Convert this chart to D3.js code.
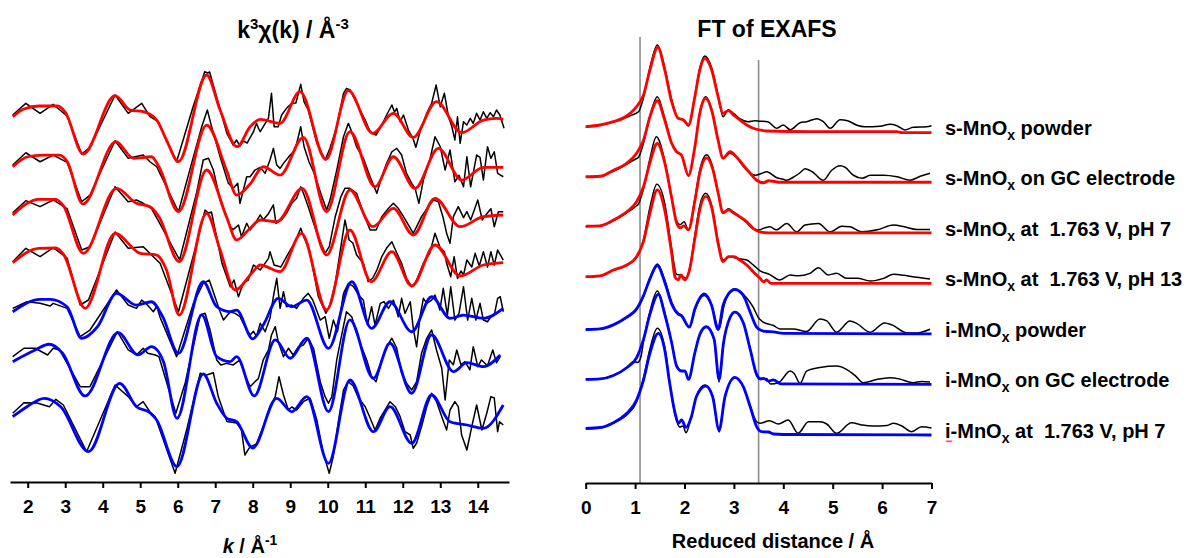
<!DOCTYPE html>
<html>
<head>
<meta charset="utf-8">
<script src="https://cdn.jsdelivr.net/npm/d3@7"></script>
<style>
  body { margin: 0; background: #fff; }
  svg text { font-family: "Liberation Sans", Arial, sans-serif; font-weight: bold; fill: #000; white-space: pre; }
</style>
</head>
<body>
<svg id="fig" width="1192" height="558"></svg>
<script>
// ---- sample names (top to bottom) ----
const sampleNames = [
  "s-MnOx powder",
  "s-MnOx on GC electrode",
  "s-MnOx at  1.763 V, pH 7",
  "s-MnOx at  1.763 V, pH 13",
  "i-MnOx powder",
  "i-MnOx on GC electrode",
  "i-MnOx at  1.763 V, pH 7"
];
const sampleType = ["s", "s", "s", "s", "i", "i", "i"];

const kTicks = [2, 3, 4, 5, 6, 7, 8, 9, 10, 11, 12, 13, 14];
const rTicks = [0, 1, 2, 3, 4, 5, 6, 7];
const fitWindowR = [1.1, 3.5];

// ---- k^3 chi(k), measured: [k, value] ----
const expS1 = [[1.6,0.3],[1.95,1.47],[2.33,0.47],[2.68,1.37],[3.05,0.2],[3.44,-3.6],[3.66,-2.93],[4.33,2.3],[4.68,0.47],[5.04,1.47],[5.26,0.13],[5.48,-0.37],[5.97,-4.37],[6.4,1.0],[6.72,4.63],[6.8,4.5],[6.85,4.6],[7.31,-1.53],[7.48,-2.7],[7.57,-2.2],[7.66,-2.8],[7.75,-2.3],[7.85,-2.5],[8.02,-1.37],[8.1,-0.53],[8.15,-1.0],[8.2,-1.37],[8.42,0.0],[8.5,2.47],[8.57,-0.87],[8.68,-0.87],[8.77,0.3],[8.9,0.97],[9.04,1.47],[9.15,1.5],[9.28,3.37],[9.37,1.6],[9.48,0.8],[9.71,-2.53],[9.93,-4.2],[10.06,-3.03],[10.24,-0.87],[10.42,2.47],[10.5,2.97],[10.6,2.8],[10.73,1.8],[10.86,0.8],[11.0,-0.2],[11.13,-1.37],[11.29,-1.7],[11.44,-0.7],[11.57,0.3],[11.71,1.3],[11.78,0.6],[11.84,0.97],[11.93,-0.37],[12.02,0.3],[12.15,-1.2],[12.27,-2.03],[12.35,-2.93],[12.46,-1.37],[12.64,0.47],[12.77,1.47],[12.89,3.3],[13.0,1.13],[13.11,2.47],[13.22,0.13],[13.31,-0.87],[13.39,-2.2],[13.46,0.13],[13.53,-2.53],[13.62,-0.37],[13.71,-0.7],[13.8,-0.03],[13.88,-0.53],[13.97,0.47],[14.06,-0.2],[14.15,0.63],[14.24,-0.03],[14.33,0.53],[14.42,0.13],[14.5,0.8],[14.59,0.3],[14.7,-1.03]];
const expS2 = [[1.6,0.13],[1.95,1.36],[2.33,0.46],[2.68,1.13],[3.05,0.4],[3.44,-3.54],[3.66,-2.87],[4.33,2.56],[4.68,0.8],[5.08,1.13],[5.26,0.46],[5.44,-0.04],[6.02,-4.54],[6.37,0.3],[6.64,3.96],[6.79,5.63],[6.88,4.3],[7.13,0.96],[7.35,-1.7],[7.48,-2.2],[7.6,-1.7],[7.66,-3.7],[7.84,-1.04],[7.93,-1.04],[8.06,-0.37],[8.2,-0.1],[8.33,-0.7],[8.46,0.63],[8.55,1.8],[8.64,0.13],[8.73,-0.2],[8.82,0.3],[9.0,1.13],[9.13,1.63],[9.28,3.96],[9.37,1.96],[9.5,0.46],[9.64,-0.7],[9.8,-2.54],[9.97,-4.37],[10.06,-3.37],[10.24,-0.37],[10.42,2.96],[10.55,4.3],[10.64,3.46],[10.77,1.96],[10.95,0.8],[11.13,-1.04],[11.31,-2.7],[11.44,-1.04],[11.57,0.3],[11.71,1.46],[11.84,1.8],[11.97,1.13],[12.1,-0.7],[12.24,-1.7],[12.33,-2.2],[12.43,-3.7],[12.55,-1.37],[12.72,0.63],[12.86,2.96],[13.0,1.96],[13.13,-0.37],[13.26,1.63],[13.39,-1.54],[13.5,-0.9],[13.62,-2.04],[13.71,0.96],[13.81,-2.04],[13.97,1.13],[14.06,0.9],[14.15,-1.37],[14.26,1.96],[14.35,0.8],[14.44,1.46],[14.53,-0.7],[14.68,-1.04]];
const expS3 = [[1.6,0.2],[1.95,1.4],[2.33,0.8],[2.68,1.47],[3.05,0.6],[3.44,-3.53],[3.66,-3.2],[4.33,2.8],[4.68,1.3],[4.9,1.47],[5.08,1.14],[5.3,0.6],[5.47,-0.53],[6.05,-4.53],[6.5,2.14],[6.68,5.47],[6.82,5.64],[6.95,4.47],[7.13,1.47],[7.4,-1.2],[7.48,-1.5],[7.62,-1.03],[7.7,-2.2],[7.84,-0.86],[7.93,-1.53],[8.06,-0.9],[8.2,-0.03],[8.28,-0.5],[8.42,0.1],[8.55,0.97],[8.62,-0.86],[8.77,-0.5],[8.9,0.14],[9.04,1.14],[9.17,1.64],[9.28,2.8],[9.37,1.97],[9.48,0.8],[9.71,-1.86],[9.93,-3.86],[10.04,-3.2],[10.2,-0.2],[10.35,1.8],[10.46,2.64],[10.59,2.64],[10.77,2.14],[10.95,0.14],[11.13,-1.53],[11.29,-1.53],[11.44,-0.2],[11.62,0.64],[11.75,1.14],[11.88,0.64],[12.02,-0.2],[12.15,-1.03],[12.28,-1.86],[12.37,-1.2],[12.5,-0.2],[12.68,0.8],[12.82,1.47],[12.95,1.3],[13.07,-0.2],[13.17,-1.86],[13.26,-2.86],[13.35,-0.2],[13.48,0.8],[13.62,-0.3],[13.71,0.3],[13.81,-0.53],[13.9,0.4],[14.0,1.47],[14.12,-0.53],[14.24,0.1],[14.35,0.6],[14.44,-1.2],[14.55,0.3],[14.68,0.3]];
const expS4 = [[1.6,0.13],[1.95,1.47],[2.33,0.63],[2.68,1.53],[3.05,0.5],[3.4,-4.2],[3.62,-3.7],[4.33,3.1],[4.68,1.47],[5.08,1.63],[5.35,0.63],[5.53,-0.03],[6.02,-4.87],[6.4,0.5],[6.73,5.3],[6.82,5.0],[6.9,5.1],[7.18,-0.03],[7.4,-2.37],[7.5,-1.7],[7.62,-3.37],[7.75,-2.0],[7.88,-1.7],[8.02,-0.2],[8.1,-0.4],[8.2,-0.7],[8.42,0.47],[8.46,1.13],[8.57,-0.2],[8.75,-0.4],[9.0,1.3],[9.13,2.13],[9.28,3.47],[9.37,2.5],[9.5,1.47],[9.75,-3.37],[9.95,-5.03],[10.06,-4.2],[10.2,-2.03],[10.46,4.3],[10.57,2.3],[10.67,2.0],[10.77,0.8],[10.95,-0.03],[11.08,-1.87],[11.2,-1.5],[11.31,-0.7],[11.44,0.63],[11.57,1.5],[11.71,2.13],[11.84,1.0],[11.97,-0.03],[12.1,-1.53],[12.24,-2.37],[12.35,-1.9],[12.55,-0.03],[12.72,0.97],[12.86,2.97],[12.99,1.6],[13.11,1.13],[13.17,-0.03],[13.28,-1.37],[13.37,0.63],[13.46,-1.54],[13.55,-0.8],[13.62,-1.2],[13.71,0.3],[13.84,-0.4],[13.93,0.97],[14.04,-0.3],[14.15,1.13],[14.26,-0.4],[14.35,1.13],[14.44,-0.2],[14.53,1.3],[14.68,0.3]];
const expI1 = [[1.6,0.3],[1.98,0.96],[2.33,0.8],[2.6,0.53],[2.68,0.8],[3.05,0.3],[3.4,-2.54],[3.66,-1.87],[4.37,2.13],[4.68,0.63],[4.9,0.3],[5.04,1.13],[5.15,0.8],[5.35,-0.04],[5.44,0.5],[5.53,-0.6],[5.97,-4.54],[6.42,0.8],[6.68,2.8],[6.84,3.13],[7.13,-0.04],[7.22,-0.87],[7.4,-0.04],[7.53,-0.2],[7.66,-0.54],[7.84,-1.87],[7.93,-2.37],[8.02,-2.0],[8.1,-2.5],[8.2,-1.2],[8.33,-2.04],[8.46,-0.7],[8.55,1.46],[8.64,3.3],[8.73,0.3],[8.82,1.96],[8.9,0.46],[9.04,0.63],[9.17,0.3],[9.35,1.3],[9.48,1.8],[9.6,1.13],[9.8,-0.87],[9.93,-0.54],[10.04,-2.7],[10.15,-0.87],[10.26,-2.04],[10.42,1.8],[10.55,2.8],[10.68,2.5],[10.86,1.46],[10.95,1.13],[11.06,-1.37],[11.17,0.46],[11.26,-1.37],[11.4,0.8],[11.5,0.96],[11.62,0.3],[11.75,1.13],[11.88,-0.54],[11.97,1.3],[12.06,-0.2],[12.2,0.96],[12.28,-1.7],[12.37,-3.54],[12.46,-0.54],[12.55,1.3],[12.64,0.8],[12.77,1.13],[12.86,1.63],[12.99,0.13],[13.08,2.3],[13.19,-0.37],[13.28,2.46],[13.39,-0.87],[13.5,-0.2],[13.62,2.46],[13.73,-0.87],[13.84,1.3],[13.95,-0.87],[14.06,0.8],[14.15,-0.87],[14.26,-1.04],[14.35,-0.54],[14.44,-0.37],[14.53,1.3],[14.6,1.46],[14.68,-0.04]];
const expI2 = [[1.6,0.3],[1.9,1.14],[2.2,1.14],[2.53,0.47],[2.68,1.14],[2.85,0.97],[3.4,-2.7],[3.66,-2.7],[4.39,2.8],[4.68,0.97],[4.9,0.47],[5.08,1.14],[5.2,0.64],[5.4,0.47],[5.5,0.3],[5.95,-5.36],[6.2,-2.3],[6.6,4.47],[6.73,4.64],[6.86,3.0],[7.04,-0.03],[7.15,-0.53],[7.3,-0.37],[7.48,-0.53],[7.66,-0.03],[7.79,-1.53],[7.93,-2.7],[8.06,-2.2],[8.15,-1.9],[8.28,-0.03],[8.42,0.97],[8.5,2.47],[8.6,3.3],[8.68,1.8],[8.82,0.3],[8.95,1.14],[9.08,0.47],[9.22,1.3],[9.35,1.47],[9.48,2.14],[9.62,1.14],[9.8,-2.2],[9.93,-3.7],[10.02,-4.36],[10.11,-3.7],[10.24,-0.03],[10.38,2.64],[10.5,4.8],[10.64,4.3],[10.77,2.64],[10.9,1.3],[11.04,-0.03],[11.17,-1.7],[11.29,-2.2],[11.44,-0.03],[11.57,1.3],[11.71,2.14],[11.84,1.14],[11.97,-1.36],[12.1,-2.36],[12.24,-3.03],[12.37,-2.2],[12.5,0.64],[12.64,2.14],[12.77,2.97],[12.9,0.97],[13.04,-0.86],[13.13,-4.03],[13.24,-0.03],[13.35,-0.5],[13.44,0.97],[13.55,-0.5],[13.66,-0.2],[13.79,-1.03],[13.88,1.3],[14.0,-0.7],[14.1,-0.03],[14.26,-0.6],[14.4,0.97],[14.5,-0.3],[14.6,0.3]];
const expI3 = [[1.6,-0.53],[1.9,0.53],[2.25,0.5],[2.58,0.13],[2.75,0.87],[2.95,0.3],[3.57,-4.37],[4.33,2.3],[4.68,1.14],[4.9,0.13],[5.08,0.63],[5.26,-0.4],[5.4,-0.87],[5.93,-6.53],[6.25,-2.0],[6.6,3.47],[6.77,3.3],[6.95,3.53],[7.08,1.14],[7.31,-1.36],[7.57,-1.5],[7.7,-2.2],[7.79,-4.7],[7.93,-3.87],[8.1,-3.6],[8.28,-1.87],[8.46,0.13],[8.6,1.14],[8.7,3.13],[8.82,1.3],[8.95,-0.2],[9.04,0.1],[9.17,-0.2],[9.35,0.63],[9.53,1.0],[9.71,-1.2],[9.88,-4.53],[10.04,-6.53],[10.15,-4.8],[10.29,-1.2],[10.42,1.8],[10.55,2.64],[10.68,2.2],[10.82,1.0],[11.0,0.13],[11.13,-1.0],[11.26,-2.2],[11.4,-1.0],[11.53,-0.2],[11.66,0.63],[11.8,0.13],[11.93,-0.87],[12.06,-2.37],[12.2,-2.7],[12.28,-4.03],[12.37,-3.5],[12.5,-1.87],[12.64,0.13],[12.77,1.47],[12.9,0.64],[13.04,-0.87],[13.17,-2.2],[13.26,-0.2],[13.39,0.64],[13.48,0.13],[13.57,-2.7],[13.71,-4.2],[13.84,-1.87],[13.97,0.3],[14.11,-2.2],[14.24,-0.53],[14.35,1.14],[14.44,1.0],[14.53,-2.37],[14.58,-1.37],[14.68,-1.7]];

// ---- k^3 chi(k), fitted model: [k, value] ----
const fitS1 = [[1.6,0.13],[1.9,0.9],[2.3,1.2],[2.8,1.2],[3.0,0.6],[3.48,-3.6],[4.33,2.23],[4.73,0.8],[5.08,0.63],[5.44,-0.2],[5.7,-2.2],[6.02,-4.37],[6.77,4.3],[7.13,0.8],[7.58,-2.87],[7.93,-0.87],[8.2,-0.13],[8.73,-0.53],[9.26,2.63],[9.95,-4.13],[10.55,2.73],[11.2,-1.53],[11.75,0.47],[12.28,-1.93],[12.9,1.63],[13.57,-1.47],[14.15,-0.2],[14.5,-0.03],[14.68,-0.13]];
const fitS2 = [[1.6,-0.04],[2.0,0.96],[2.4,1.13],[2.85,1.13],[3.05,0.5],[3.47,-3.77],[4.35,2.46],[4.82,0.8],[5.3,0.96],[5.5,-0.04],[6.02,-4.54],[6.77,4.13],[7.3,-0.37],[7.57,-2.87],[7.93,-1.77],[8.28,-0.04],[8.73,-0.87],[9.35,2.9],[9.97,-4.54],[10.59,3.46],[11.26,-2.04],[11.75,0.96],[12.33,-2.2],[12.95,1.8],[13.57,-1.37],[14.15,-0.1],[14.68,-0.1]];
const fitS3 = [[1.6,-0.03],[2.3,1.54],[2.75,1.54],[2.95,0.9],[3.48,-3.86],[4.37,2.64],[4.9,1.14],[5.26,0.8],[5.5,-0.2],[6.04,-4.7],[6.77,4.47],[7.3,-0.2],[7.57,-2.53],[7.93,-1.36],[8.2,-0.53],[8.64,-0.7],[9.32,2.64],[9.97,-4.03],[10.59,2.47],[11.2,-1.2],[11.75,0.64],[12.28,-2.03],[12.86,1.64],[13.53,-1.2],[14.15,-0.2],[14.68,-0.03]];
const fitS4 = [[1.6,0.03],[2.3,1.47],[2.75,1.5],[2.95,0.9],[3.53,-4.53],[4.33,2.97],[5.0,0.97],[5.44,0.8],[5.7,-0.7],[6.04,-5.2],[6.77,4.97],[7.13,1.3],[7.53,-2.7],[8.0,-0.9],[8.2,-0.2],[8.73,-0.87],[9.3,2.97],[9.97,-4.7],[10.59,3.3],[11.16,-1.87],[11.71,1.13],[12.24,-2.3],[12.86,1.8],[13.53,-1.3],[14.15,-0.2],[14.68,0.03]];
const fitI1 = [[1.6,-0.04],[2.33,1.2],[2.6,1.2],[3.05,0.46],[3.44,-2.7],[3.86,-1.54],[4.37,1.8],[4.9,0.63],[5.3,0.96],[5.6,-0.54],[6.02,-4.2],[6.68,2.96],[7.04,0.46],[7.4,-0.04],[7.57,0.13],[8.0,-2.75],[8.28,-1.37],[8.68,1.3],[9.04,0.46],[9.44,1.13],[10.02,-3.7],[10.64,2.96],[11.17,-1.7],[11.66,0.96],[12.24,-2.04],[12.77,1.46],[13.26,-0.7],[13.62,-0.37],[14.15,-0.7],[14.68,0.3]];
const fitI2 = [[1.6,-0.2],[2.2,0.97],[2.57,1.54],[2.93,0.64],[3.53,-3.63],[4.41,2.7],[4.94,0.47],[5.3,1.3],[5.62,-0.2],[5.98,-5.86],[6.64,4.47],[7.04,0.3],[7.4,-0.2],[7.57,0.3],[8.04,-3.63],[8.6,1.97],[9.0,0.14],[9.44,2.14],[10.02,-5.2],[10.59,3.97],[11.22,-1.86],[11.66,1.64],[12.24,-3.36],[12.77,2.47],[13.35,-1.2],[13.71,-0.3],[14.15,-0.7],[14.6,0.47]];
const fitI3 = [[1.6,-0.87],[1.98,0.13],[2.44,0.97],[2.88,0.13],[3.62,-4.37],[4.45,2.47],[4.9,0.13],[5.26,-0.47],[5.44,-1.2],[5.98,-5.87],[6.68,3.4],[7.04,0.47],[7.31,-1.03],[7.57,-1.37],[8.0,-4.0],[8.64,0.97],[9.04,-0.37],[9.44,1.14],[10.02,-5.53],[10.59,2.8],[11.22,-2.37],[11.66,0.13],[12.24,-3.53],[12.77,1.3],[13.26,-1.37],[13.71,-1.7],[14.15,-2.03],[14.68,0.3]];

// ---- |FT| vs reduced distance, measured: [R, value] ----
const ftExpS1 = [[0,0.45],[0.29,0.67],[0.69,1.17],[0.9,1.6],[1.07,2.0],[1.17,3.4],[1.3,6.4],[1.45,8.67],[1.6,6.4],[1.74,3.2],[1.87,1.34],[1.98,1.2],[2.08,0.57],[2.21,3.6],[2.31,6.4],[2.41,7.57],[2.55,6.4],[2.68,3.6],[2.78,1.5],[2.89,2.2],[3.0,1.8],[3.12,1.3],[3.29,1.0],[3.42,1.1],[3.53,1.05],[3.68,1.0],[3.87,0.34],[4.0,0.67],[4.14,0.2],[4.34,0.9],[4.47,1.0],[4.68,1.3],[4.81,1.0],[4.95,0.34],[5.15,1.2],[5.3,1.1],[5.49,0.65],[5.65,0.5],[5.96,0.55],[6.16,0.74],[6.3,0.6],[6.46,0.17],[6.63,0.44],[6.9,0.5],[7.0,0.6]];
const ftExpS2 = [[0,0.5],[0.29,0.6],[0.56,1.1],[0.83,1.8],[1.0,2.3],[1.07,2.5],[1.17,3.9],[1.3,6.6],[1.45,8.55],[1.6,6.4],[1.74,3.9],[1.84,3.05],[1.94,2.7],[2.08,0.6],[2.21,3.6],[2.31,7.0],[2.43,8.55],[2.55,7.3],[2.68,4.2],[2.78,2.4],[2.92,2.9],[3.05,2.5],[3.19,1.6],[3.33,0.9],[3.43,0.7],[3.57,0.9],[3.66,1.05],[3.87,0.45],[4.0,0.3],[4.07,0.2],[4.2,0.5],[4.34,0.95],[4.44,1.35],[4.6,1.0],[4.81,0.2],[4.98,1.2],[5.15,1.65],[5.25,1.5],[5.42,0.7],[5.6,0.4],[5.76,0.7],[6.03,0.7],[6.3,0.55],[6.57,0.2],[6.77,0.6],[6.97,0.9]];
const ftExpS3 = [[0,0.6],[0.29,0.7],[0.56,1.2],[0.83,2.0],[1.0,2.6],[1.07,2.9],[1.17,4.4],[1.3,7.4],[1.43,9.6],[1.6,7.2],[1.74,3.4],[1.84,1.2],[1.91,0.8],[1.99,1.1],[2.08,0.3],[2.21,3.4],[2.31,6.3],[2.45,7.8],[2.57,6.6],[2.68,4.0],[2.78,2.0],[2.89,2.4],[2.99,2.1],[3.12,1.6],[3.26,1.0],[3.39,0.4],[3.49,0.27],[3.63,0.5],[3.73,0.6],[3.86,0.3],[4.07,0.93],[4.27,0.1],[4.44,0.77],[4.71,0.93],[4.95,0.1],[5.18,0.65],[5.35,0.6],[5.59,0.1],[5.9,0.3],[6.23,0.77],[6.45,0.6],[6.7,0.33],[6.97,0.33]];
const ftExpS4 = [[0,0.6],[0.29,0.75],[0.56,1.3],[0.83,1.8],[1.0,2.4],[1.07,2.9],[1.17,4.4],[1.3,7.6],[1.44,9.9],[1.6,8.0],[1.74,3.5],[1.84,0.9],[1.94,0.8],[2.03,0.5],[2.1,1.4],[2.21,4.8],[2.31,7.8],[2.43,9.0],[2.55,7.8],[2.68,4.2],[2.78,2.34],[2.92,2.67],[3.05,2.5],[3.26,2.34],[3.39,1.84],[3.53,1.25],[3.72,0.9],[3.93,0.34],[4.14,0.84],[4.3,0.75],[4.54,1.0],[4.71,1.57],[4.91,0.84],[5.08,1.0],[5.28,0.5],[5.5,0.5],[5.76,0.24],[6.03,0.5],[6.23,0.9],[6.45,0.8],[6.7,0.6],[6.97,0.44]];
const ftExpI1 = [[0,0.4],[0.29,0.5],[0.56,0.9],[0.83,1.6],[1.03,2.4],[1.17,3.7],[1.3,5.6],[1.45,7.0],[1.6,5.4],[1.74,3.2],[1.84,2.1],[1.94,1.9],[2.1,0.67],[2.21,2.4],[2.4,3.84],[2.55,2.8],[2.7,0.5],[2.8,2.8],[2.89,4.0],[3.02,4.5],[3.26,3.6],[3.39,2.67],[3.49,1.67],[3.59,1.17],[3.8,0.84],[3.93,0.5],[4.2,0.5],[4.47,0.24],[4.74,1.5],[4.88,1.3],[5.08,0.17],[5.35,1.3],[5.5,1.0],[5.76,0.17],[6.05,1.1],[6.2,0.9],[6.5,0.1],[6.7,0.1],[6.97,0.47]];
const ftExpI2 = [[0,0.5],[0.29,0.55],[0.56,0.9],[0.83,1.67],[0.97,2.3],[1.05,2.2],[1.12,2.8],[1.17,4.3],[1.3,7.3],[1.45,9.34],[1.6,7.2],[1.74,4.2],[1.84,1.9],[1.94,1.4],[2.01,1.4],[2.08,0.5],[2.21,3.2],[2.31,5.0],[2.44,5.8],[2.6,4.5],[2.7,0.24],[2.79,4.2],[2.92,6.7],[3.02,7.3],[3.19,6.2],[3.33,3.5],[3.46,0.9],[3.53,0.5],[3.66,0.6],[3.74,0.05],[3.9,0.17],[4.14,1.34],[4.22,1.1],[4.34,0.1],[4.47,1.34],[4.74,1.7],[5.08,1.84],[5.28,1.5],[5.45,0.9],[5.62,0.17],[5.89,0.5],[6.16,0.67],[6.35,0.55],[6.63,0.17],[6.8,0.3],[6.97,0.25]];
const ftExpI3 = [[0,0.6],[0.29,0.7],[0.56,1.2],[0.83,2.0],[1.03,3.3],[1.17,5.7],[1.3,8.6],[1.45,10.67],[1.6,8.8],[1.7,5.3],[1.81,2.0],[1.9,0.8],[1.97,0.9],[2.03,0.23],[2.14,1.9],[2.24,3.9],[2.41,5.0],[2.57,3.9],[2.7,0.3],[2.82,3.8],[3.02,5.7],[3.19,4.8],[3.33,2.9],[3.46,1.33],[3.53,1.17],[3.72,1.43],[3.9,1.1],[4.1,1.5],[4.3,0.17],[4.51,1.33],[4.75,1.33],[4.88,1.1],[5.08,0.17],[5.38,1.23],[5.6,1.0],[5.8,0.9],[6.1,0.95],[6.23,1.17],[6.4,0.9],[6.6,0.33],[6.8,0.83],[7.0,0.7]];

// ---- |FT| vs reduced distance, fitted model: [R, value] ----
const ftFitS1 = [[0,0.5],[0.29,0.67],[0.56,1.0],[0.83,1.57],[1.0,2.34],[1.17,3.67],[1.3,6.17],[1.46,8.44],[1.6,6.17],[1.74,3.0],[1.87,1.34],[1.98,1.17],[2.08,0.67],[2.21,3.5],[2.31,6.17],[2.41,7.34],[2.55,6.17],[2.68,3.5],[2.78,1.84],[2.89,2.1],[2.99,1.67],[3.12,1.17],[3.26,0.67],[3.39,0.34],[3.53,0.17],[3.66,0.07],[4.5,0.0],[6.3,0.0],[6.4,-0.1],[7.0,-0.1]];
const ftFitS2 = [[0,0.55],[0.29,0.6],[0.56,1.2],[0.83,1.9],[1.03,2.9],[1.17,4.2],[1.3,6.55],[1.45,8.15],[1.6,6.2],[1.74,3.9],[1.84,3.05],[1.94,2.7],[2.08,0.7],[2.21,3.55],[2.31,6.9],[2.43,8.4],[2.55,7.2],[2.68,4.2],[2.78,2.4],[2.92,3.05],[3.05,2.55],[3.19,1.7],[3.33,0.9],[3.46,0.2],[3.6,-0.05],[3.7,0.15],[3.8,0.1],[3.9,0.0],[7.0,0.0]];
const ftFitS3 = [[0,0.67],[0.29,0.7],[0.56,1.27],[0.83,2.1],[1.03,3.1],[1.17,4.6],[1.3,7.0],[1.45,8.93],[1.6,7.0],[1.74,3.5],[1.84,1.0],[1.91,0.5],[1.99,0.7],[2.08,0.3],[2.21,3.2],[2.31,6.0],[2.45,7.5],[2.57,6.4],[2.68,4.0],[2.78,2.0],[2.89,2.3],[2.99,2.0],[3.12,1.6],[3.26,1.1],[3.39,0.45],[3.53,0.1],[3.7,0.0],[7.0,0.0]];
const ftFitS4 = [[0,0.67],[0.29,0.75],[0.56,1.34],[0.83,1.84],[1.03,2.67],[1.17,4.2],[1.3,7.0],[1.45,9.34],[1.6,7.3],[1.74,3.0],[1.81,0.6],[1.87,0.34],[1.93,0.84],[2.0,0.34],[2.1,1.3],[2.21,4.5],[2.31,7.4],[2.43,8.7],[2.55,7.6],[2.68,4.0],[2.78,2.17],[2.89,2.67],[3.0,2.67],[3.12,2.34],[3.26,1.84],[3.39,1.17],[3.53,0.5],[3.6,0.15],[3.66,0.34],[3.75,0.0],[7.0,0.0]];
const ftFitI1 = [[0,0.44],[0.29,0.5],[0.56,0.9],[0.83,1.67],[1.03,2.5],[1.17,3.84],[1.3,5.5],[1.45,6.84],[1.6,5.17],[1.74,3.0],[1.87,2.0],[1.94,1.8],[2.1,0.67],[2.21,2.5],[2.4,4.0],[2.55,2.84],[2.68,0.44],[2.78,2.84],[2.89,4.0],[3.02,4.44],[3.19,3.84],[3.33,2.17],[3.46,0.67],[3.56,0.34],[3.66,0.24],[3.8,0.2],[4.0,0.05],[7.0,0.0]];
const ftFitI2 = [[0,0.5],[0.29,0.55],[0.56,0.9],[0.83,1.67],[1.03,2.67],[1.17,4.5],[1.3,7.0],[1.47,9.0],[1.6,7.0],[1.74,4.17],[1.84,1.84],[1.94,1.34],[2.01,1.34],[2.08,0.5],[2.21,3.17],[2.31,5.0],[2.44,5.77],[2.6,4.5],[2.7,0.5],[2.79,4.17],[2.92,6.67],[3.02,7.24],[3.19,6.17],[3.33,3.5],[3.46,1.0],[3.53,0.57],[3.6,0.6],[3.7,0.34],[3.8,0.45],[3.95,0.05],[7.0,0.0]];
const ftFitI3 = [[0,0.67],[0.29,0.75],[0.56,1.23],[0.83,2.17],[1.03,3.5],[1.17,5.5],[1.3,8.17],[1.47,10.17],[1.6,8.5],[1.7,5.17],[1.81,2.17],[1.88,1.17],[1.94,1.5],[2.03,0.77],[2.14,1.83],[2.24,3.83],[2.43,4.9],[2.57,3.83],[2.7,0.5],[2.82,3.83],[3.02,5.77],[3.19,4.83],[3.33,2.83],[3.46,0.83],[3.56,0.33],[3.7,0.3],[3.8,0.1],[4.0,0.05],[7.0,0.0]];

const kExp = [expS1, expS2, expS3, expS4, expI1, expI2, expI3];
const kFit = [fitS1, fitS2, fitS3, fitS4, fitI1, fitI2, fitI3];
const rExp = [ftExpS1, ftExpS2, ftExpS3, ftExpS4, ftExpI1, ftExpI2, ftExpI3];
const rFit = [ftFitS1, ftFitS2, ftFitS3, ftFitS4, ftFitI1, ftFitI2, ftFitI3];

// ---- layout ----
const svg = d3.select("#fig");
const fitColor = { s: "#ff0000", i: "#0000ff" };
const n = sampleNames.length;

// left panel: k-space, spectra stacked with a constant vertical shift
const xK = d3.scaleLinear().domain([1.528, 14.833]).range([10, 509]);
const yK = d3.scaleLinear().domain([-7.4, 36.4]).range([482, 44]);
const SHIFT_K = 4.833;

// right panel: R-space, spectra stacked the same way
const xR = d3.scaleLinear().domain([0, 7]).range([585.7, 931.5]);
const yR = d3.scaleLinear().domain([0, 45]).range([483, 33]);
const BASE_R = 4.8, SHIFT_R = 5.055;

const gLeft = svg.append("g");
const gRight = svg.append("g");

// fit-window markers in R-space
gRight.append("line")
  .attr("x1", xR(fitWindowR[0])).attr("x2", xR(fitWindowR[0]))
  .attr("y1", 37).attr("y2", yR(0))
  .attr("stroke", "#8c8c8c").attr("stroke-width", 1.6);
gRight.append("line")
  .attr("x1", xR(fitWindowR[1])).attr("x2", xR(fitWindowR[1]))
  .attr("y1", 60).attr("y2", yR(0))
  .attr("stroke", "#8c8c8c").attr("stroke-width", 1.6);

for (let i = 0; i < n; i++) {
  const offK = (n - 1 - i) * SHIFT_K;
  const lineExpK = d3.line().x(d => xK(d[0])).y(d => yK(d[1] + offK)).curve(d3.curveLinear);
  const lineFitK = d3.line().x(d => xK(d[0])).y(d => yK(d[1] + offK)).curve(d3.curveMonotoneX);
  gLeft.append("path").attr("d", lineExpK(kExp[i]))
    .attr("fill", "none").attr("stroke", "#000").attr("stroke-width", 1.5)
    .attr("stroke-linejoin", "round");
  gLeft.append("path").attr("d", lineFitK(kFit[i]))
    .attr("fill", "none").attr("stroke", fitColor[sampleType[i]]).attr("stroke-width", 2.8)
    .attr("stroke-linejoin", "round");

  const offR = BASE_R + (n - 1 - i) * SHIFT_R;
  const lineR = d3.line().x(d => xR(d[0])).y(d => yR(d[1] + offR)).curve(d3.curveMonotoneX);
  gRight.append("path").attr("d", lineR(rExp[i]))
    .attr("fill", "none").attr("stroke", "#000").attr("stroke-width", 1.5);
  gRight.append("path").attr("d", lineR(rFit[i]))
    .attr("fill", "none").attr("stroke", fitColor[sampleType[i]]).attr("stroke-width", 2.8);

  // sample label
  const name = sampleNames[i];
  const cut = name.indexOf("MnOx") + 4;
  const t = gRight.append("text")
    .attr("x", 945).attr("y", yR(offR) + 3)
    .attr("font-size", 20);
  t.append("tspan").text(name.slice(0, cut - 1));
  t.append("tspan").attr("font-size", 14).attr("dy", 5).text("x");
  t.append("tspan").attr("dy", -5).text(name.slice(cut));
  if (i === n - 1) {
    // spell-check squiggle under the leading "i"
    const y0 = yR(offR) + 6;
    const wave = d3.range(0, 7).map(j => [946 + j, y0 + (j % 2 ? 1.2 : -0.6)]);
    gRight.append("path").attr("d", d3.line()(wave))
      .attr("fill", "none").attr("stroke", "#ff3030").attr("stroke-width", 0.9);
  }
}

// axes
function styleAxis(g) {
  g.attr("font-family", null).attr("font-size", null);
  g.select(".domain").attr("stroke-width", 2);
  g.selectAll(".tick line").attr("stroke-width", 2);
  g.selectAll(".tick text").attr("font-size", 19).attr("fill", "#000");
}
gLeft.append("g").attr("transform", `translate(0,${yK(-7.4)})`)
  .call(d3.axisBottom(xK).tickValues(kTicks).tickSize(6).tickSizeOuter(0).tickPadding(12).tickFormat(d3.format("d")))
  .call(styleAxis);
gRight.append("g").attr("transform", `translate(0,${yR(0)})`)
  .call(d3.axisBottom(xR).tickValues(rTicks).tickSize(6).tickSizeOuter(0).tickPadding(12).tickFormat(d3.format("d")))
  .call(styleAxis);

// axis titles
const xtL = gLeft.append("text").attr("x", 250).attr("y", 553).attr("text-anchor", "middle").attr("font-size", 20);
xtL.append("tspan").attr("font-style", "italic").text("k");
xtL.append("tspan").text(" / Å");
xtL.append("tspan").attr("font-size", 14).attr("dy", -8).text("-1");

gRight.append("text").attr("x", 773).attr("y", 548).attr("text-anchor", "middle")
  .attr("font-size", 20).text("Reduced distance / Å");

// panel titles
const ttl = gLeft.append("text").attr("x", 293).attr("y", 38).attr("text-anchor", "middle").attr("font-size", 23);
ttl.append("tspan").text("k");
ttl.append("tspan").attr("font-size", 15).attr("dy", -9).text("3");
ttl.append("tspan").attr("dy", 9).text("χ(k) / Å");
ttl.append("tspan").attr("font-size", 15).attr("dy", -9).text("-3");

gRight.append("text").attr("x", 767).attr("y", 37).attr("text-anchor", "middle")
  .attr("font-size", 23).text("FT of EXAFS");
</script>
</body>
</html>
